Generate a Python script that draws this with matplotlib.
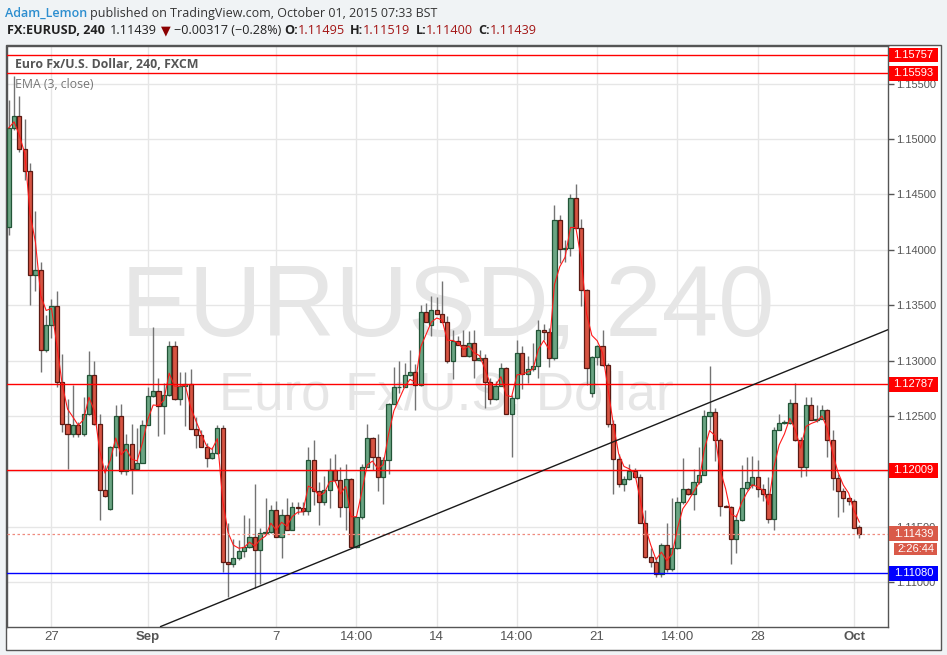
import matplotlib

matplotlib.use("Agg")
import matplotlib.pyplot as plt
import matplotlib.transforms as mtransforms
from matplotlib.patches import Rectangle
import numpy as np
import pandas as pd

# EURUSD 240-minute candles (oldest first)
OPEN = [
    1.1421, 1.1510, 1.1521, 1.1491, 1.1471, 1.1377, 1.1382, 1.1310, 1.1332, 1.1349,
    1.1281, 1.1243, 1.1234, 1.1242, 1.1234, 1.1252, 1.1287, 1.1243, 1.1183, 1.1166,
    1.1222, 1.1250, 1.1200, 1.1225, 1.1202, 1.1208, 1.1242, 1.1268, 1.1273, 1.1259,
    1.1269, 1.1313, 1.1265, 1.1277, 1.1279, 1.1238, 1.1233, 1.1222, 1.1212, 1.1217,
    1.1239, 1.1118, 1.1116, 1.1122, 1.1128, 1.1132, 1.1141, 1.1129, 1.1144, 1.1145,
    1.1165, 1.1141, 1.1161, 1.1147, 1.1168, 1.1167, 1.1164, 1.1210, 1.1182, 1.1172,
    1.1183, 1.1201, 1.1192, 1.1168, 1.1193, 1.1132, 1.1159, 1.1204, 1.1230, 1.1213,
    1.1195, 1.1210, 1.1261, 1.1276, 1.1276, 1.1287, 1.1290, 1.1278, 1.1344, 1.1332,
    1.1346, 1.1342, 1.1335, 1.1300, 1.1318, 1.1314, 1.1304, 1.1316, 1.1301, 1.1302,
    1.1281, 1.1265, 1.1277, 1.1293, 1.1252, 1.1266, 1.1307, 1.1288, 1.1292, 1.1295,
    1.1328, 1.1326, 1.1302, 1.1427, 1.1401, 1.1402, 1.1447, 1.1420, 1.1364, 1.1271,
    1.1303, 1.1313, 1.1296, 1.1243, 1.1211, 1.1189, 1.1193, 1.1200, 1.1195, 1.1153,
    1.1123, 1.1118, 1.1107, 1.1134, 1.1112, 1.1131, 1.1172, 1.1184, 1.1180, 1.1190,
    1.1197, 1.1250, 1.1254, 1.1228, 1.1169, 1.1168, 1.1139, 1.1156, 1.1185, 1.1188,
    1.1195, 1.1184, 1.1180, 1.1157, 1.1237, 1.1244, 1.1244, 1.1262, 1.1228, 1.1204,
    1.1260, 1.1246, 1.1247, 1.1255, 1.1228, 1.1194, 1.1182, 1.1176, 1.1173, 1.11495,
]
HIGH = [
    1.1535, 1.1557, 1.1539, 1.1518, 1.1478, 1.1435, 1.1389, 1.1341, 1.1356, 1.1363,
    1.1306, 1.1265, 1.1278, 1.1245, 1.1267, 1.1309, 1.1300, 1.1252, 1.1206, 1.1223,
    1.1260, 1.1261, 1.1234, 1.1243, 1.1239, 1.1246, 1.1276, 1.1330, 1.1284, 1.1280,
    1.1318, 1.1318, 1.1290, 1.1290, 1.1292, 1.1249, 1.1237, 1.1226, 1.1222, 1.1242,
    1.1242, 1.1153, 1.1139, 1.1138, 1.1161, 1.1158, 1.1189, 1.1149, 1.1176, 1.1170,
    1.1173, 1.1166, 1.1176, 1.1172, 1.1172, 1.1172, 1.1222, 1.1228, 1.1190, 1.1196,
    1.1212, 1.1216, 1.1204, 1.1207, 1.1194, 1.1159, 1.1207, 1.1243, 1.1231, 1.1234,
    1.1213, 1.1262, 1.1294, 1.1300, 1.1298, 1.1310, 1.1297, 1.1350, 1.1352, 1.1358,
    1.1357, 1.1372, 1.1340, 1.1328, 1.1322, 1.1328, 1.1327, 1.1328, 1.1310, 1.1306,
    1.1284, 1.1282, 1.1298, 1.1294, 1.1269, 1.1319, 1.1313, 1.1304, 1.1316, 1.1337,
    1.1333, 1.1329, 1.1440, 1.1431, 1.1409, 1.1450, 1.1459, 1.1428, 1.1365, 1.1304,
    1.1314, 1.1328, 1.1298, 1.1246, 1.1216, 1.1196, 1.1207, 1.1203, 1.1198, 1.1165,
    1.1131, 1.1123, 1.1135, 1.1153, 1.1176, 1.1177, 1.1212, 1.1185, 1.1202, 1.1222,
    1.1255, 1.1295, 1.1257, 1.1230, 1.1170, 1.1169, 1.1162, 1.1206, 1.1213, 1.1214,
    1.1210, 1.1189, 1.1195, 1.1240, 1.1252, 1.1246, 1.1265, 1.1280, 1.1231, 1.1267,
    1.1267, 1.1260, 1.1260, 1.1256, 1.1237, 1.1198, 1.1185, 1.1177, 1.1175, 1.11519,
]
LOW = [
    1.1413, 1.1508, 1.1488, 1.1463, 1.1350, 1.1363, 1.1290, 1.1308, 1.1320, 1.1276,
    1.1236, 1.1202, 1.1231, 1.1231, 1.1232, 1.1251, 1.1242, 1.1156, 1.1177, 1.1165,
    1.1214, 1.1198, 1.1197, 1.1180, 1.1202, 1.1208, 1.1242, 1.1267, 1.1232, 1.1234,
    1.1268, 1.1264, 1.1260, 1.1241, 1.1238, 1.1221, 1.1222, 1.1204, 1.1211, 1.1216,
    1.1109, 1.1087, 1.1114, 1.1120, 1.1123, 1.1131, 1.1095, 1.1098, 1.1143, 1.1144,
    1.1141, 1.1122, 1.1147, 1.1147, 1.1162, 1.1161, 1.1161, 1.1170, 1.1152, 1.1170,
    1.1167, 1.1190, 1.1159, 1.1147, 1.1131, 1.1131, 1.1157, 1.1204, 1.1201, 1.1182,
    1.1171, 1.1198, 1.1261, 1.1271, 1.1276, 1.1286, 1.1255, 1.1277, 1.1335, 1.1322,
    1.1342, 1.1335, 1.1298, 1.1283, 1.1314, 1.1304, 1.1303, 1.1284, 1.1300, 1.1257,
    1.1261, 1.1264, 1.1277, 1.1252, 1.1213, 1.1265, 1.1274, 1.1280, 1.1291, 1.1284,
    1.1319, 1.1294, 1.1301, 1.1388, 1.1389, 1.1394, 1.1420, 1.1349, 1.1278, 1.1267,
    1.1296, 1.1295, 1.1240, 1.1180, 1.1186, 1.1182, 1.1192, 1.1194, 1.1153, 1.1122,
    1.1114, 1.1105, 1.1105, 1.1109, 1.1110, 1.1130, 1.1171, 1.1179, 1.1165, 1.1189,
    1.1197, 1.1237, 1.1209, 1.1160, 1.1168, 1.1116, 1.1126, 1.1155, 1.1183, 1.1185,
    1.1177, 1.1173, 1.1153, 1.1147, 1.1237, 1.1243, 1.1243, 1.1227, 1.1195, 1.1196,
    1.1246, 1.1245, 1.1247, 1.1213, 1.1183, 1.1159, 1.1163, 1.1170, 1.1149, 1.11400,
]
CLOSE = [
    1.1510, 1.1521, 1.1491, 1.1471, 1.1377, 1.1382, 1.1310, 1.1332, 1.1349, 1.1281,
    1.1243, 1.1234, 1.1242, 1.1234, 1.1252, 1.1287, 1.1243, 1.1183, 1.1178, 1.1222,
    1.1250, 1.1200, 1.1225, 1.1202, 1.1208, 1.1242, 1.1268, 1.1273, 1.1259, 1.1269,
    1.1313, 1.1265, 1.1277, 1.1279, 1.1238, 1.1233, 1.1222, 1.1212, 1.1217, 1.1239,
    1.1118, 1.1116, 1.1122, 1.1128, 1.1132, 1.1141, 1.1129, 1.1144, 1.1145, 1.1165,
    1.1141, 1.1161, 1.1147, 1.1168, 1.1167, 1.1164, 1.1210, 1.1182, 1.1172, 1.1183,
    1.1201, 1.1192, 1.1168, 1.1193, 1.1132, 1.1159, 1.1204, 1.1230, 1.1213, 1.1195,
    1.1210, 1.1261, 1.1276, 1.1276, 1.1287, 1.1290, 1.1278, 1.1344, 1.1335, 1.1346,
    1.1342, 1.1335, 1.1300, 1.1318, 1.1314, 1.1304, 1.1316, 1.1301, 1.1302, 1.1281,
    1.1265, 1.1277, 1.1293, 1.1252, 1.1266, 1.1307, 1.1288, 1.1292, 1.1295, 1.1328,
    1.1326, 1.1302, 1.1427, 1.1401, 1.1402, 1.1447, 1.1420, 1.1364, 1.1293, 1.1303,
    1.1313, 1.1296, 1.1243, 1.1211, 1.1189, 1.1193, 1.1200, 1.1195, 1.1153, 1.1123,
    1.1118, 1.1107, 1.1134, 1.1112, 1.1131, 1.1172, 1.1184, 1.1180, 1.1190, 1.1197,
    1.1250, 1.1254, 1.1228, 1.1169, 1.1168, 1.1139, 1.1156, 1.1185, 1.1190, 1.1195,
    1.1184, 1.1180, 1.1157, 1.1237, 1.1244, 1.1244, 1.1262, 1.1228, 1.1204, 1.1260,
    1.1246, 1.1247, 1.1255, 1.1228, 1.1194, 1.1182, 1.1176, 1.1173, 1.1149, 1.11439,
]

# time axis: candle index of each label
TICK_POS = [8, 26, 50, 65, 80, 95, 110, 125, 140, 158]
TICK_LABELS = ["27", "Sep", "7", "14:00", "14", "14:00", "21", "14:00", "28", "Oct"]
BOLD_TICKS = {"Sep", "Oct"}

PRICE_TICKS = [1.110, 1.115, 1.120, 1.125, 1.130, 1.135, 1.140, 1.145, 1.150, 1.155]
HIDDEN_TICKS = {1.120}  # fully covered by the 1.12009 label

RED_LEVELS = [1.15757, 1.15593, 1.12787, 1.12009]
BLUE_LEVEL = 1.11080
LAST_PRICE = 1.11439
COUNTDOWN = "2:26:44"

# rising trend line, two anchor points (candle index, price)
TREND_X = [28.4, 164.4]
TREND_P = [1.1060, 1.1328]

W, H = 947, 655
BG = "#f0f3f5"
FRAME = "#555555"


def fx(px):
    return px / W


def fy(py):
    return 1 - py / H


def draw_pieces(fig, x_px, y_px, pieces):
    renderer = fig.canvas.get_renderer()
    x = x_px
    for text, gap, kw in pieces:
        t = fig.text(fx(x), fy(y_px), text, ha="left", va="center", **kw)
        x += t.get_window_extent(renderer).width + gap


def main():
    fig = plt.figure(figsize=(W / 100, H / 100), dpi=100, facecolor=BG)

    # chart widget background (plot + axis strips)
    fig.add_artist(Rectangle((fx(6), fy(650)), fx(941) - fx(6), fy(45) - fy(650),
                             transform=fig.transFigure, facecolor="white",
                             edgecolor=FRAME, linewidth=1, zorder=-1))

    ax = fig.add_axes([fx(6.5), fy(627), fx(888) - fx(6.5), fy(45.5) - fy(627)])
    ax.set_facecolor("white")
    ax.set_xlim(-0.41, 164.35)
    ax.set_ylim(1.105958, 1.158439)
    for spine in ax.spines.values():
        spine.set_color(FRAME)
        spine.set_linewidth(1)

    ax.set_xticks(TICK_POS)
    ax.set_xticklabels(TICK_LABELS)
    ax.set_yticks(PRICE_TICKS)
    ax.set_yticklabels(["" if round(v, 3) in HIDDEN_TICKS else f"{v:.5f}" for v in PRICE_TICKS])
    ax.grid(color="#e6e6e6", linewidth=1)
    ax.set_axisbelow(True)
    ax.yaxis.tick_right()
    ax.tick_params(axis="y", length=4, width=1, color=FRAME, pad=1.5,
                   labelsize=8, labelcolor="#555555")
    ax.tick_params(axis="x", length=0, pad=3, labelsize=9.5, labelcolor="#555555")
    for label in ax.get_yticklabels():
        label.set_fontfamily(["Liberation Sans", "DejaVu Sans"])
    for label in ax.get_xticklabels():
        label.set_fontfamily(["Liberation Sans Narrow", "Liberation Sans"])
        if label.get_text() in BOLD_TICKS:
            label.set_fontweight("bold")

    # watermark
    ax.text(0.5003, 0.5004, "EURUSD, 240", transform=ax.transAxes, ha="center",
            va="baseline", fontsize=73, color="#e6e6e6",
            family=["Liberation Sans", "DejaVu Sans"], zorder=0.5)
    ax.text(0.4986, 0.3732, "Euro Fx/U.S. Dollar", transform=ax.transAxes, ha="center",
            va="baseline", fontsize=38, color="#e6e6e6",
            family=["Liberation Sans", "DejaVu Sans"], zorder=0.5)

    o = np.array(OPEN)
    h = np.array(HIGH)
    l = np.array(LOW)
    c = np.array(CLOSE)
    x = np.arange(len(o))
    up = c >= o
    body_lo = np.minimum(o, c)
    body_h = np.maximum(np.abs(c - o), 0.00003)
    fill = np.where(up, "#6ba583", "#d75442")
    edge = np.where(up, "#225437", "#5b1a13")

    ax.vlines(x, l, h, color="#737373", linewidth=1, zorder=2)
    ax.bar(x, body_h, bottom=body_lo, width=0.78, color=fill, edgecolor=edge,
           linewidth=0.9, zorder=3)

    ema = pd.Series(c).ewm(span=3, adjust=False).mean()
    ax.plot(x, ema, color="#ff1a1a", linewidth=0.8, zorder=4)

    for level in RED_LEVELS:
        ax.axhline(level, color="#ff0000", linewidth=1, zorder=4)
    ax.axhline(BLUE_LEVEL, color="#0000ff", linewidth=1, zorder=4)
    ax.axhline(LAST_PRICE, color="#ef8a7e", linewidth=0.9, linestyle=(0, (2, 2)), zorder=4)
    ax.plot(TREND_X, TREND_P, color="#1a1a1a", linewidth=1, zorder=4)

    # price labels on the right axis
    trans = mtransforms.blended_transform_factory(ax.transAxes, ax.transData)
    ax_h_px = 627 - 45.5
    per_px = (1.158439 - 1.105958) / ax_h_px
    x0 = (889 - 6.5) / 881.5
    bw = (938 - 889) / 881.5
    boxes = [(lv, f"{lv:.5f}", "#ff0000") for lv in RED_LEVELS]
    boxes.append((LAST_PRICE, f"{LAST_PRICE:.5f}", "#d95a49"))
    boxes.append((BLUE_LEVEL, f"{BLUE_LEVEL:.5f}", "#0000ff"))
    for level, text, color in boxes:
        ax.add_patch(Rectangle((x0, level - 7.3 * per_px), bw, 14.6 * per_px,
                               transform=trans, facecolor=color, edgecolor="none",
                               clip_on=False, zorder=6))
        ax.text(x0 + bw / 2, level, text, transform=trans, ha="center", va="center",
                fontsize=8, color="white", family=["Liberation Sans", "DejaVu Sans"],
                clip_on=False, zorder=7)
    cd_y = LAST_PRICE - 15.5 * per_px
    cx0 = (894 - 6.5) / 881.5
    cbw = (937 - 894) / 881.5
    ax.add_patch(Rectangle((cx0, cd_y - 6.3 * per_px), cbw, 12.6 * per_px,
                           transform=trans, facecolor="#d95a49", edgecolor="none",
                           clip_on=False, zorder=6))
    ax.text(cx0 + cbw / 2, cd_y, COUNTDOWN, transform=trans, ha="center", va="center",
            fontsize=8, color="white", family=["Liberation Sans", "DejaVu Sans"],
            clip_on=False, zorder=7)

    # legend texts inside the chart
    ax.text((15 - 6.5) / 881.5, (627 - 65) / ax_h_px,
            "Euro Fx/U.S. Dollar, 240, FXCM", transform=ax.transAxes, ha="left",
            va="center", fontsize=8.9, fontweight="bold", color="#555555",
            family=["Open Sans", "DejaVu Sans"], zorder=8)
    ax.text((15 - 6.5) / 881.5, (627 - 84) / ax_h_px, "EMA (3, close)",
            transform=ax.transAxes, ha="left", va="center", fontsize=8.8,
            color="#777777", family=["Open Sans", "DejaVu Sans"], zorder=8)

    # header lines
    fam = ["Open Sans", "DejaVu Sans"]
    draw_pieces(fig, 5, 13, [
        ("Adam_Lemon", 3, dict(fontsize=9.0, color="#2d8ecf", fontweight="semibold", family=fam)),
        ("published on TradingView.com, October 01, 2015 07:33 BST", 0,
         dict(fontsize=9.0, color="#333333", family=fam)),
    ])
    dark = "#222222"
    val = "#a31515"
    fs = 9.1
    draw_pieces(fig, 7, 31, [
        ("FX:EURUSD, 240", 5, dict(fontsize=fs, color=dark, fontweight="bold", family=fam)),
        ("1.11439", 4, dict(fontsize=fs, color=dark, family=fam)),
        ("\u25bc", 3, dict(fontsize=fs, color="#8b0000", family=fam)),
        ("\u22120.00317 (\u22120.28%)", 3, dict(fontsize=fs, color=dark, family=fam)),
        ("O:", 0, dict(fontsize=fs, color=dark, fontweight="bold", family=fam)),
        ("1.11495", 5, dict(fontsize=fs, color=val, family=fam)),
        ("H:", 0, dict(fontsize=fs, color=dark, fontweight="bold", family=fam)),
        ("1.11519", 5, dict(fontsize=fs, color=val, family=fam)),
        ("L:", 0, dict(fontsize=fs, color=dark, fontweight="bold", family=fam)),
        ("1.11400", 5, dict(fontsize=fs, color=val, family=fam)),
        ("C:", 0, dict(fontsize=fs, color=dark, fontweight="bold", family=fam)),
        ("1.11439", 0, dict(fontsize=fs, color=val, family=fam)),
    ])

    fig.savefig("out.png", dpi=100, facecolor=BG)
    plt.close(fig)
    return 0


if __name__ == "__main__":
    raise SystemExit(main())
